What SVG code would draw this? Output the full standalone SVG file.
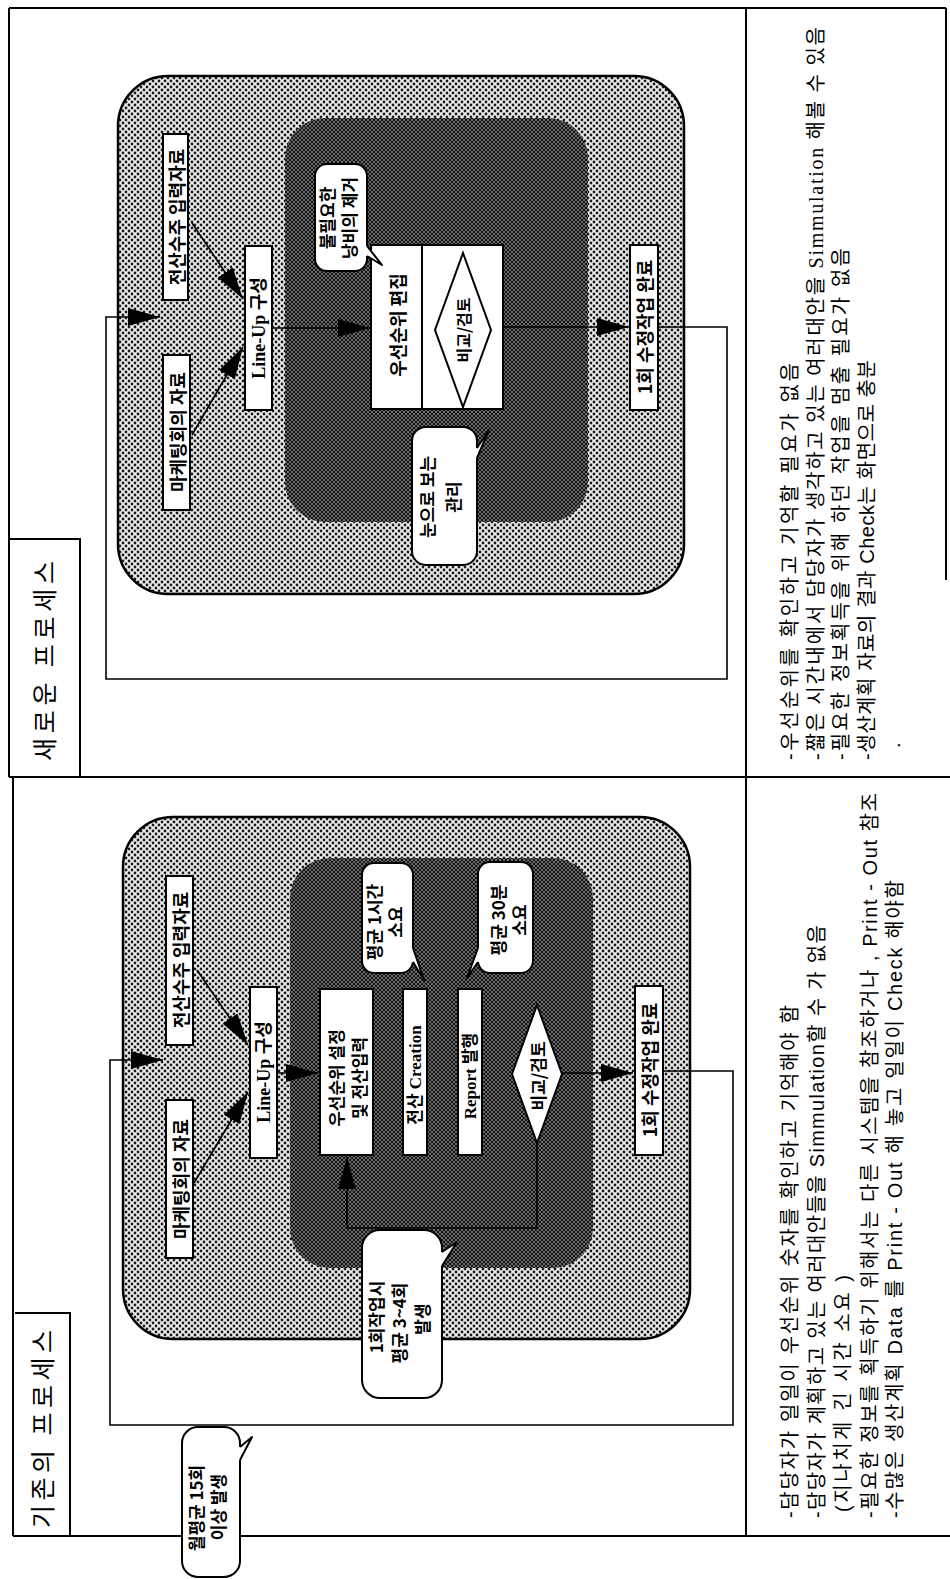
<svg xmlns="http://www.w3.org/2000/svg" width="950" height="1579" viewBox="0 0 950 1579">
<style>
.bx{fill:#fff;stroke:#000;stroke-width:2}
.fr{fill:none;stroke:#000;stroke-width:2}
.ln{fill:none;stroke:#000;stroke-width:1.6}
.co{fill:#fff;stroke:#000;stroke-width:2}
.tl{fill:#fff;stroke:none}
.tt{fill:none;stroke:#000;stroke-width:2;stroke-linejoin:round}
.lt{fill:url(#light);stroke:#000;stroke-width:2.5}
.dk{fill:url(#dark);stroke:none}
text{fill:#000}
.k{font-family:"Noto Sans CJK KR",sans-serif;font-size:18px;font-weight:bold;text-anchor:middle;dominant-baseline:central}
.m{font-family:"Liberation Serif","Noto Sans CJK KR",serif;font-size:18px;font-weight:bold;text-anchor:middle;dominant-baseline:central}
.c{font-family:"Noto Sans CJK KR",sans-serif;font-size:17px;font-weight:bold;text-anchor:middle;dominant-baseline:central}
.t{font-family:"Noto Sans CJK KR",sans-serif;font-size:25px;text-anchor:middle;dominant-baseline:central}
.n{font-family:"Liberation Sans","Noto Sans CJK KR",sans-serif;font-size:20px;dominant-baseline:central}
.ns{font-family:"Liberation Serif","Noto Sans CJK KR",serif;font-size:20px;dominant-baseline:central}
</style>
<defs>
  <pattern id="light" width="6" height="6" patternUnits="userSpaceOnUse">
    <rect width="6" height="6" fill="#ececec"/>
    <circle cx="0" cy="0" r="1.4" fill="#1a1a1a"/>
    <circle cx="6" cy="0" r="1.4" fill="#1a1a1a"/>
    <circle cx="0" cy="6" r="1.4" fill="#1a1a1a"/>
    <circle cx="6" cy="6" r="1.4" fill="#1a1a1a"/>
    <circle cx="3" cy="3" r="1.4" fill="#1a1a1a"/>
  </pattern>
  <pattern id="dark" width="4" height="4" patternUnits="userSpaceOnUse">
    <rect width="4" height="4" fill="#151515"/>
    <circle cx="0" cy="0" r="0.7" fill="#fff"/>
    <circle cx="4" cy="0" r="0.7" fill="#fff"/>
    <circle cx="0" cy="4" r="0.7" fill="#fff"/>
    <circle cx="4" cy="4" r="0.7" fill="#fff"/>
    <circle cx="2" cy="2" r="0.7" fill="#fff"/>
  </pattern>
  <marker id="ah" viewBox="0 0 32 18" refX="32" refY="9" markerWidth="32" markerHeight="18" markerUnits="userSpaceOnUse" orient="auto">
    <path d="M0,0 L32,9 L0,18 Z" fill="#000"/>
  </marker>
</defs>

<g id="frame">
  <path class="fr" d="M9,8 H946 M9,8 V777 M9,777 H950 M13,777 V1536 M13,1536 H950 M746,8 V1536 M946,8 V580"/>
</g>

<g id="title-new">
  <path class="fr" d="M10,539 H80 V777"/>
  <text class="t" transform="translate(43,661) rotate(-90)" textLength="200" lengthAdjust="spacing">새로운 프로세스</text>
</g>
<g id="title-old">
  <path class="fr" d="M15,1313 H70 V1536"/>
  <text class="t" transform="translate(41,1429) rotate(-90)" textLength="198" lengthAdjust="spacing">기존의 프로세스</text>
</g>

<g id="new-area">
  <rect class="lt" x="118" y="76" width="566" height="518" rx="50"/>
  <rect class="dk" x="285" y="118" width="303" height="404" rx="40"/>
</g>
<g id="old-area">
  <rect class="lt" x="123" y="817" width="567" height="522" rx="50"/>
  <rect class="dk" x="290" y="858" width="303" height="410" rx="40"/>
</g>

<g id="connectors">
  <path class="ln" d="M192,223 L243,299" marker-end="url(#ah)"/>
  <path class="ln" d="M192,435 L243,347" marker-end="url(#ah)"/>
  <path class="ln" d="M272,328 H370" marker-end="url(#ah)"/>
  <path class="ln" d="M503,327 H629" marker-end="url(#ah)"/>
  <path class="ln" d="M658,327 H727 V679 H106 V317 H160" marker-end="url(#ah)"/>
  <path class="ln" d="M197,970 L248,1045" marker-end="url(#ah)"/>
  <path class="ln" d="M194,1183 L248,1092" marker-end="url(#ah)"/>
  <path class="ln" d="M277,1073 H318" marker-end="url(#ah)"/>
  <path class="ln" d="M562,1073 H633" marker-end="url(#ah)"/>
  <path class="ln" d="M663,1071 H733 V1425 H110 V1060 H163" marker-end="url(#ah)"/>
  <path class="ln" d="M537,1143 V1228 H347 V1157" marker-end="url(#ah)"/>
</g>

<g id="new-order-input">
  <rect class="bx" x="163" y="134" width="25" height="166"/>
  <text class="k" transform="translate(175.5,217) rotate(-90)">전산수주 입력자료</text>
</g>
<g id="new-marketing">
  <rect class="bx" x="163" y="355" width="27" height="155"/>
  <text class="k" transform="translate(176.5,432) rotate(-90)">마케팅회의 자료</text>
</g>
<g id="new-lineup">
  <rect class="bx" x="245" y="246" width="27" height="164"/>
  <text class="m" transform="translate(258.5,328) rotate(-90)">Line-Up 구성</text>
</g>
<g id="new-priority">
  <rect class="bx" x="371" y="245" width="51" height="164"/>
  <text class="k" transform="translate(396.5,325) rotate(-90)">우선순위 편집</text>
</g>
<g id="new-compare">
  <rect class="bx" x="422" y="245" width="81" height="164"/>
  <polygon class="bx" points="463,253 491,330 463,407 435,330"/>
  <text class="k" style="font-size:16px" transform="translate(463,330) rotate(-90)">비교/검토</text>
</g>
<g id="new-done">
  <rect class="bx" x="630" y="245" width="28" height="165"/>
  <text class="k" transform="translate(644,327) rotate(-90)">1회 수정작업 완료</text>
</g>

<g id="old-order-input">
  <rect class="bx" x="166" y="876" width="27" height="169"/>
  <text class="k" transform="translate(179.5,960) rotate(-90)">전산수주 입력자료</text>
</g>
<g id="old-marketing">
  <rect class="bx" x="166" y="1100" width="27" height="158"/>
  <text class="k" transform="translate(179.5,1179) rotate(-90)">마케팅회의 자료</text>
</g>
<g id="old-lineup">
  <rect class="bx" x="250" y="987" width="27" height="171"/>
  <text class="m" transform="translate(263.5,1072) rotate(-90)">Line-Up 구성</text>
</g>
<g id="old-priority">
  <rect class="bx" x="320" y="989" width="53" height="166"/>
  <text class="c" transform="translate(335,1078) rotate(-90)">우선순위 설정</text>
  <text class="c" transform="translate(358,1078) rotate(-90)">및 전산입력</text>
</g>
<g id="old-creation">
  <rect class="bx" x="403" y="989" width="24" height="166"/>
  <text class="m" style="font-size:17px" transform="translate(415,1075) rotate(-90)">전산 Creation</text>
</g>
<g id="old-report">
  <rect class="bx" x="458" y="989" width="24" height="166"/>
  <text class="m" style="font-size:17px" transform="translate(470,1076) rotate(-90)">Report 발행</text>
</g>
<g id="old-compare">
  <polygon class="bx" points="537,1005 562,1074 537,1143 512,1074"/>
  <text class="c" transform="translate(537,1076) rotate(-90)">비교/검토</text>
</g>
<g id="old-done">
  <rect class="bx" x="635" y="986" width="28" height="169"/>
  <text class="k" transform="translate(649,1070) rotate(-90)">1회 수정작업 완료</text>
</g>

<g id="new-callout-waste">
  <rect class="co" x="315" y="164" width="52" height="107" rx="12"/>
  <polygon class="tl" points="363,246 367,246 382,265 367,256 363,256"/>
  <polyline class="tt" points="367,246 382,265 367,256"/>
  <text class="c" transform="translate(326,218) rotate(-90)">불필요한</text>
  <text class="c" transform="translate(348,218) rotate(-90)">낭비의 제거</text>
</g>
<g id="new-callout-visual">
  <rect class="co" x="412" y="427" width="65" height="138" rx="14"/>
  <polygon class="tl" points="473,448 477,448 489,430 477,458 473,458"/>
  <polyline class="tt" points="477,448 489,430 477,458"/>
  <text class="c" transform="translate(426,497) rotate(-90)">눈으로 보는</text>
  <text class="c" transform="translate(452,497) rotate(-90)">관리</text>
</g>
<g id="old-callout-1h">
  <rect class="co" x="362" y="863" width="51" height="110" rx="12"/>
  <polygon class="tl" points="409,948 413,948 424,980 413,962 409,962"/>
  <polyline class="tt" points="413,948 424,980 413,962"/>
  <text class="c" transform="translate(373,922) rotate(-90)">평균 1시간</text>
  <text class="c" transform="translate(394,922) rotate(-90)">소요</text>
</g>
<g id="old-callout-30m">
  <rect class="co" x="478" y="862" width="55" height="111" rx="12"/>
  <polygon class="tl" points="482,948 478,948 467,978 478,962 482,962"/>
  <polyline class="tt" points="478,948 467,978 478,962"/>
  <text class="c" transform="translate(497,920) rotate(-90)">평균 30분</text>
  <text class="c" transform="translate(518,920) rotate(-90)">소요</text>
</g>
<g id="old-callout-repeat">
  <rect class="co" x="362" y="1230" width="80" height="168" rx="18"/>
  <polygon class="tl" points="438,1252 442,1252 457,1242 442,1266 438,1266"/>
  <polyline class="tt" points="442,1252 457,1242 442,1266"/>
  <text class="c" transform="translate(375,1317) rotate(-90)">1회작업시</text>
  <text class="c" transform="translate(398,1323) rotate(-90)">평균 3~4회</text>
  <text class="c" transform="translate(421,1319) rotate(-90)">발생</text>
</g>
<g id="old-callout-monthly">
  <rect class="co" x="182" y="1427" width="58" height="150" rx="16"/>
  <polygon class="tl" points="236,1447 240,1447 252,1437 240,1460 236,1460"/>
  <polyline class="tt" points="240,1447 252,1437 240,1460"/>
  <text class="c" transform="translate(195,1508) rotate(-90)">월평균 15회</text>
  <text class="c" transform="translate(217,1507) rotate(-90)">이상 발생</text>
</g>

<g id="notes-new">
  <text class="n" transform="translate(790,760) rotate(-90)" textLength="397" lengthAdjust="spacing">-우선순위를 확인하고 기억할 필요가 없음</text>
  <text class="ns" transform="translate(816,760) rotate(-90)" textLength="733" lengthAdjust="spacing">-짧은 시간내에서 담당자가 생각하고 있는 여러대안을 Simmulation 해볼 수 있음</text>
  <text class="n" transform="translate(841,760) rotate(-90)" textLength="512" lengthAdjust="spacing">-필요한 정보획득을 위해 하던 작업을 멈출 필요가 없음</text>
  <text class="n" transform="translate(867,760) rotate(-90)" textLength="400" lengthAdjust="spacing">-생산계획 자료의 결과 Check는 화면으로 충분</text>
  <text class="n" transform="translate(893,748) rotate(-90)">.</text>
</g>
<g id="notes-old">
  <text class="n" transform="translate(790,1518) rotate(-90)" textLength="513" lengthAdjust="spacing">-담당자가 일일이 우선순위 숫자를 확인하고 기억해야 함</text>
  <text class="n" transform="translate(817,1518) rotate(-90)" textLength="593" lengthAdjust="spacing">-담당자가 계획하고 있는 여러대안들을 Simmulation할 수 가 없음</text>
  <text class="n" transform="translate(843,1512) rotate(-90)" textLength="237" lengthAdjust="spacing">(지나치게 긴 시간 소요 )</text>
  <text class="n" transform="translate(870,1518) rotate(-90)" textLength="725" lengthAdjust="spacing">-필요한 정보를 획득하기 위해서는 다른 시스템을 참조하거나 , Print - Out 참조</text>
  <text class="n" transform="translate(895,1518) rotate(-90)" textLength="638" lengthAdjust="spacing">-수많은 생산계획 Data 를 Print - Out 해 놓고 일일이 Check 해야함</text>
</g>
</svg>
